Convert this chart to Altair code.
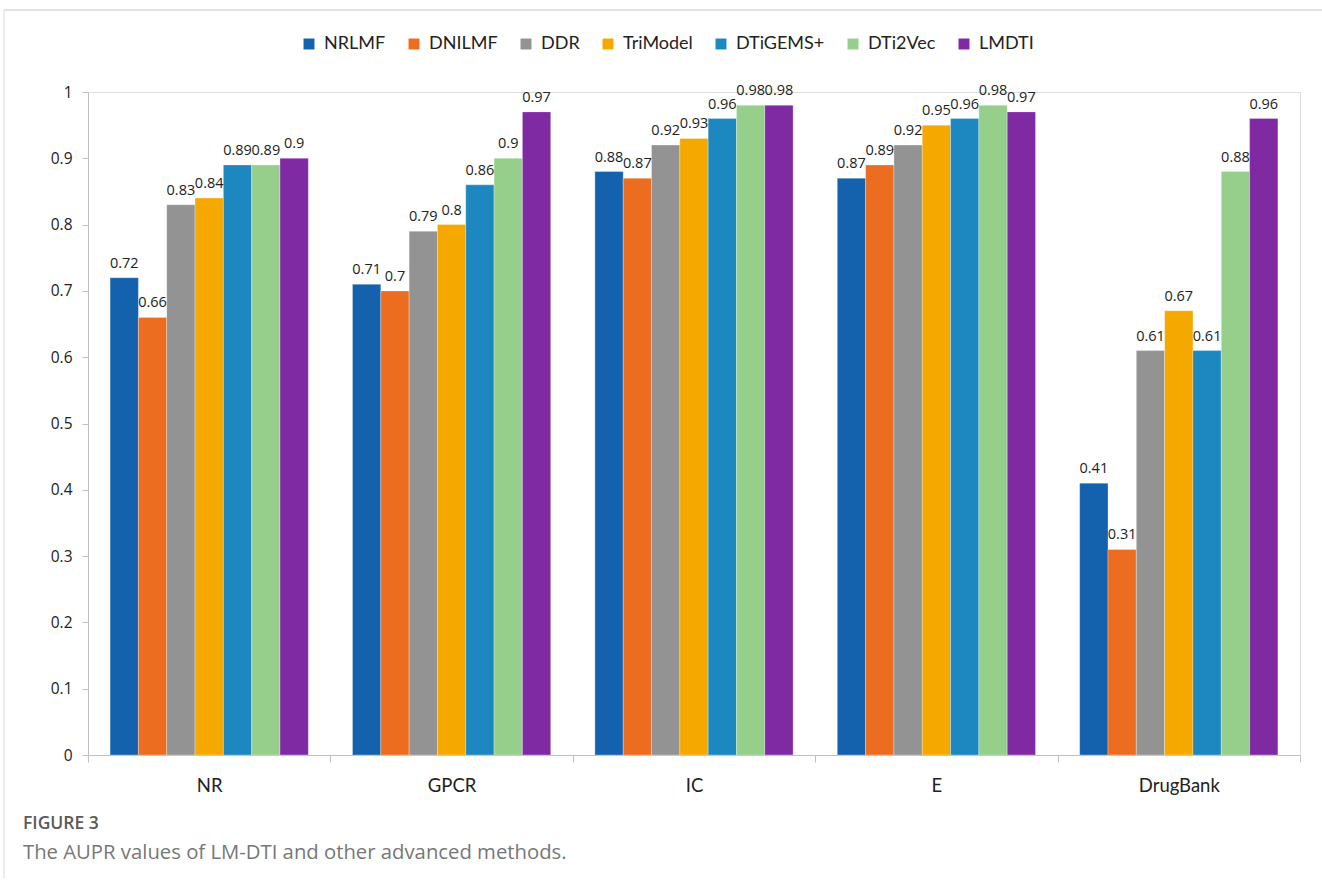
import altair as alt
import pandas as pd

categories = ["NR", "GPCR", "IC", "E", "DrugBank"]
methods = ["NRLMF", "DNILMF", "DDR", "TriModel", "DTiGEMS+", "DTi2Vec", "LMDTI"]
colors = ["#1461AD", "#EC6D1F", "#939393", "#F5A800", "#1C88BF", "#95CF8B", "#7F29A3"]

values = {
    "NRLMF":    [0.72, 0.71, 0.88, 0.87, 0.41],
    "DNILMF":   [0.66, 0.70, 0.87, 0.89, 0.31],
    "DDR":      [0.83, 0.79, 0.92, 0.92, 0.61],
    "TriModel": [0.84, 0.80, 0.93, 0.95, 0.67],
    "DTiGEMS+": [0.89, 0.86, 0.96, 0.96, 0.61],
    "DTi2Vec":  [0.89, 0.90, 0.98, 0.98, 0.88],
    "LMDTI":    [0.90, 0.97, 0.98, 0.97, 0.96],
}

rows = []
for m in methods:
    for c, v in zip(categories, values[m]):
        rows.append({"Dataset": c, "Method": m, "Value": v})
df = pd.DataFrame(rows)

W, H = 1212, 663
PAD_L, PAD_T = 88, 92

base = alt.Chart(df).encode(
    x=alt.X("Dataset:N", sort=categories,
            scale=alt.Scale(paddingInner=0, paddingOuter=0),
            axis=alt.Axis(title=None, labelAngle=0, tickBand="extent",
                          labelFont="Lato", labelFontSize=18.5, labelColor="#222",
                          labelPadding=14, tickSize=7, tickColor="#bfbfbf",
                          domainColor="#bfbfbf", grid=False)),
    xOffset=alt.XOffset("Method:N", sort=methods,
                        scale=alt.Scale(paddingInner=0, paddingOuter=0.78)),
    y=alt.Y("Value:Q", scale=alt.Scale(domain=[0, 1], nice=False),
            axis=alt.Axis(title=None, values=[i / 10 for i in range(11)],
                          format=".1~f", labelFont="Open Sans", labelFontSize=15.5,
                          labelColor="#222", tickSize=6, tickColor="#bfbfbf",
                          domainColor="#bfbfbf", grid=False, labelPadding=10)),
)

bars = base.mark_bar(stroke="white", strokeWidth=0.5, strokeOpacity=0.6).encode(
    color=alt.Color("Method:N", sort=methods,
                    scale=alt.Scale(domain=methods, range=colors),
                    legend=alt.Legend(title=None, orient="none", direction="horizontal",
                                      legendX=212, legendY=-57,
                                      symbolType="square", symbolSize=120,
                                      symbolStrokeWidth=0,
                                      labelFont="Lato", labelFontSize=18,
                                      labelColor="#222", columnPadding=19,
                                      labelOffset=6)),
)

labels = base.mark_text(baseline="bottom", dy=-7, font="Open Sans",
                        fontSize=14.5, color="#222").encode(
    text=alt.Text("Value:Q", format=".2~f"),
)

cap_df = pd.DataFrame({"t": ["FIGURE 3"]})
fig_label = alt.Chart(cap_df).mark_text(
    align="left", baseline="middle", font="Open Sans", fontSize=17.5,
    fontWeight=600, color="#5a5a5a"
).encode(x=alt.value(23 - PAD_L), y=alt.value(824 - PAD_T), text="t:N")

desc_df = pd.DataFrame({"t": ["The AUPR values of LM-DTI and other advanced methods."]})
desc = alt.Chart(desc_df).mark_text(
    align="left", baseline="middle", font="Open Sans", fontSize=20.3,
    color="#777777"
).encode(x=alt.value(23 - PAD_L), y=alt.value(853 - PAD_T), text="t:N")

top_border = alt.Chart(cap_df).mark_rule(color="#c8c8c8", strokeWidth=1).encode(
    x=alt.value(4 - PAD_L), x2=alt.value(1322 - PAD_L), y=alt.value(10 - PAD_T))
left_border = alt.Chart(cap_df).mark_rule(color="#d8d8d8", strokeWidth=1).encode(
    x=alt.value(4 - PAD_L), y=alt.value(10 - PAD_T), y2=alt.value(878 - PAD_T))

chart = alt.layer(bars, labels, fig_label, desc, top_border, left_border).properties(
    width=W, height=H,
    autosize=alt.AutoSizeParams(type="none"),
    padding={"left": PAD_L, "top": PAD_T, "right": 1322 - PAD_L - W, "bottom": 886 - PAD_T - H},
).configure_view(stroke=None).configure(background="white")

chart.save("out.html", embed_options={"renderer": "svg", "actions": False})
